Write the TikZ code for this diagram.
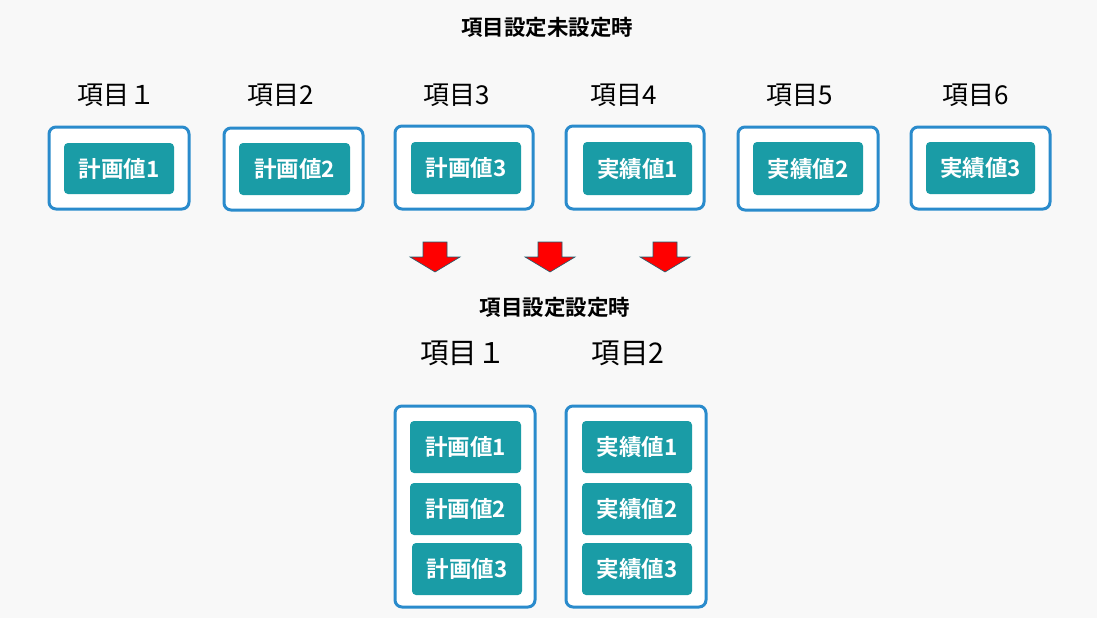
\documentclass[tikz,border=0pt]{standalone}
\usepackage{fontspec}
\setmainfont{Noto Sans CJK JP}
\newfontfamily\jpb{Noto Sans CJK JP Bold}
\definecolor{bg}{HTML}{F8F8F8}
\definecolor{outerblue}{HTML}{2A8BCC}
\definecolor{teal}{HTML}{1A9CA6}
\definecolor{arrowedge}{HTML}{1F5F70}
\tikzset{
  outerbox/.style={draw=outerblue, line width=3pt, fill=white, rounded corners=7pt},
  innerbox/.style={fill=teal, rounded corners=4pt},
  innertext/.style={text=white, font=\jpb\fontsize{22.5}{26}\selectfont},
  itemlabel/.style={font=\fontsize{26}{30}\selectfont, text=black},
  titletext/.style={font=\jpb\fontsize{21.5}{24}\selectfont, text=black},
  downarrow/.style={fill=red, draw=arrowedge, line width=0.6pt}
}
\begin{document}
\begin{tikzpicture}[x=1pt,y=-1pt]
\fill[bg] (0,0) rectangle (1097,618);
\useasboundingbox (0,0) rectangle (1097,618);

\node[titletext] (t1) at (547,27) {項目設定未設定時};

% top labels
\node[itemlabel] (l1) at (116,95) {項目１};
\node[itemlabel] (l2) at (281,95) {項目2};
\node[itemlabel] (l3) at (457,95) {項目3};
\node[itemlabel] (l4) at (624,95) {項目4};
\node[itemlabel] (l5) at (800,95) {項目5};
\node[itemlabel] (l6) at (976,95) {項目6};

% top outer boxes
\draw[outerbox] (49,127) rectangle (189,209);
\draw[outerbox] (224,128) rectangle (363,210);
\draw[outerbox] (395,126) rectangle (533,209);
\draw[outerbox] (566,126) rectangle (704,209);
\draw[outerbox] (738,127) rectangle (878,210);
\draw[outerbox] (911,127) rectangle (1050,209);

% top inner boxes
\fill[innerbox] (64,143) rectangle (174,194);
\node[innertext] (a1) at (119,168.5) {計画値1};
\fill[innerbox] (239,143) rectangle (350,195);
\node[innertext] (a2) at (294.5,169) {計画値2};
\fill[innerbox] (411,142) rectangle (521,194);
\node[innertext] (a3) at (466,168) {計画値3};
\fill[innerbox] (583,142) rectangle (692,195);
\node[innertext] (a4) at (637.5,168.5) {実績値1};
\fill[innerbox] (753,142) rectangle (863,195);
\node[innertext] (a5) at (808,168.5) {実績値2};
\fill[innerbox] (926,142) rectangle (1035,194);
\node[innertext] (a6) at (980.5,168) {実績値3};

% arrows
\foreach \cx in {435,550,665}{
  \draw[downarrow] (\cx-12,242) -- (\cx+12,242) -- (\cx+12,257) -- (\cx+25,257)
    -- (\cx,272) -- (\cx-25,257) -- (\cx-12,257) -- cycle;
}

\node[titletext] (t2) at (555,307) {項目設定設定時};

\node[itemlabel, font=\fontsize{28.5}{32}\selectfont] (b1) at (463,353) {項目１};
\node[itemlabel, font=\fontsize{28.5}{32}\selectfont] (b2) at (628,353) {項目2};

% bottom outer boxes
\draw[outerbox] (395,406) rectangle (535,607);
\draw[outerbox] (566,406) rectangle (706,607);

% bottom inner
\fill[innerbox] (410,421) rectangle (521,473);
\node[innertext] (c1) at (465.5,447) {計画値1};
\fill[innerbox] (410,483) rectangle (521,535);
\node[innertext] (c2) at (465.5,509) {計画値2};
\fill[innerbox] (412,543) rectangle (522,595);
\node[innertext] (c3) at (467,569) {計画値3};
\fill[innerbox] (582,421) rectangle (692,473);
\node[innertext] (d1) at (637,447) {実績値1};
\fill[innerbox] (582,483) rectangle (692,535);
\node[innertext] (d2) at (637,509) {実績値2};
\fill[innerbox] (582,543) rectangle (692,595);
\node[innertext] (d3) at (637,569) {実績値3};
\end{tikzpicture}
\end{document}
